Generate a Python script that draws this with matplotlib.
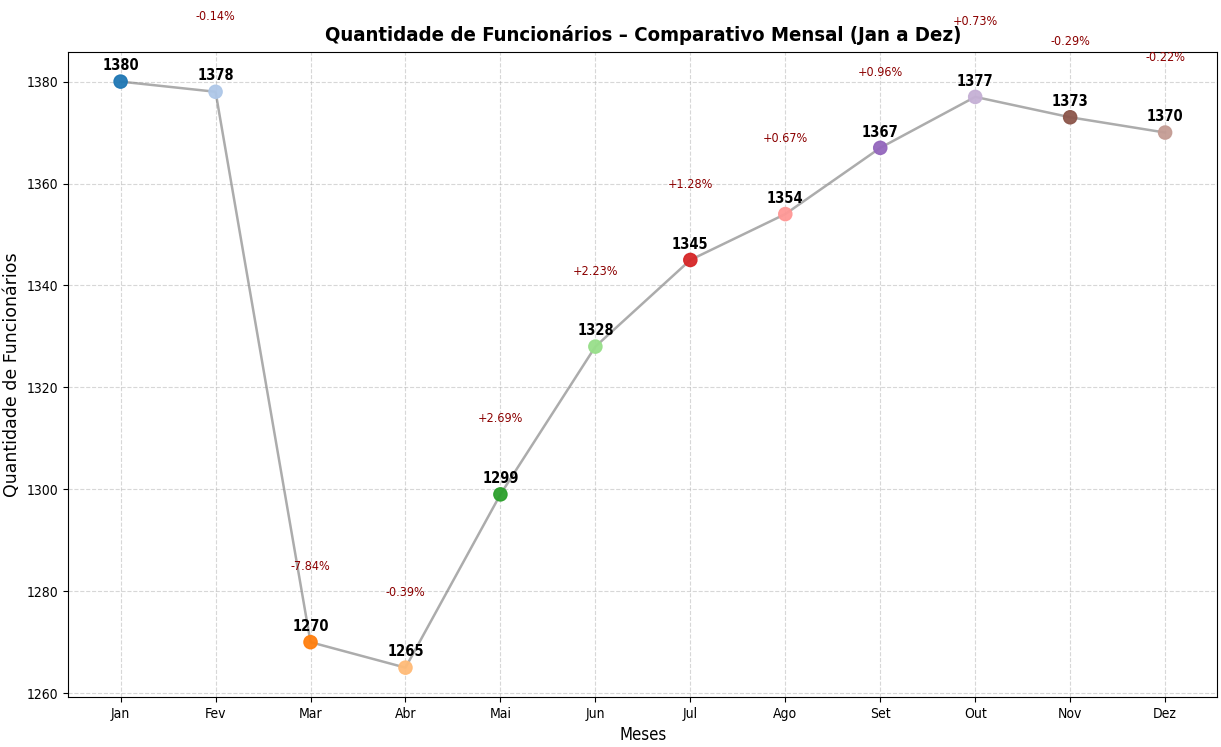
import numpy as np
import matplotlib
matplotlib.use("Agg")
import matplotlib.pyplot as plt

meses = ["Jan", "Fev", "Mar", "Abr", "Mai", "Jun", "Jul", "Ago", "Set", "Out", "Nov", "Dez"]
funcionarios = [1380, 1378, 1270, 1265, 1299, 1328, 1345, 1354, 1367, 1377, 1373, 1370]

plt.rcParams['font.family'] = ['DejaVu Sans']
plt.rcParams['font.stretch'] = 'condensed'

x = np.arange(len(meses))
cores = plt.cm.tab20(np.arange(len(meses)))

fig, ax = plt.subplots(figsize=(12.21, 7.47), dpi=100)
fig.subplots_adjust(left=0.056, right=0.997, top=0.93, bottom=0.067)

ax.plot(x, funcionarios, color='gray', alpha=0.65, linewidth=1.8, zorder=2)
ax.scatter(x, funcionarios, c=cores, s=90, alpha=0.95, zorder=3)

for i, v in enumerate(funcionarios):
    ax.annotate(str(v), (i, v), xytext=(0, 6), textcoords='offset points',
                ha='center', va='bottom', fontsize=10.5, fontweight='bold', stretch='condensed')

# variacao percentual mes a mes
for i in range(1, len(funcionarios)):
    var = (funcionarios[i] - funcionarios[i - 1]) / funcionarios[i - 1] * 100
    ax.text(i, funcionarios[i] + 14.8, f"{var:+.2f}%", ha='center', va='center',
            fontsize=9, color='darkred', stretch='condensed')

ax.set_xticks(x)
ax.set_xticklabels(meses)
ax.tick_params(labelsize=10)
ax.set_title("Quantidade de Funcionários – Comparativo Mensal (Jan a Dez)",
             fontsize=14.6, fontweight='bold', stretch='condensed', pad=8)
ax.set_xlabel("Meses", fontsize=12, stretch='condensed')
ax.set_ylabel("Quantidade de Funcionários", fontsize=12.5, stretch='normal', labelpad=4)
ax.grid(True, linestyle='--', alpha=0.5)

plt.savefig("out.png", dpi=100)
